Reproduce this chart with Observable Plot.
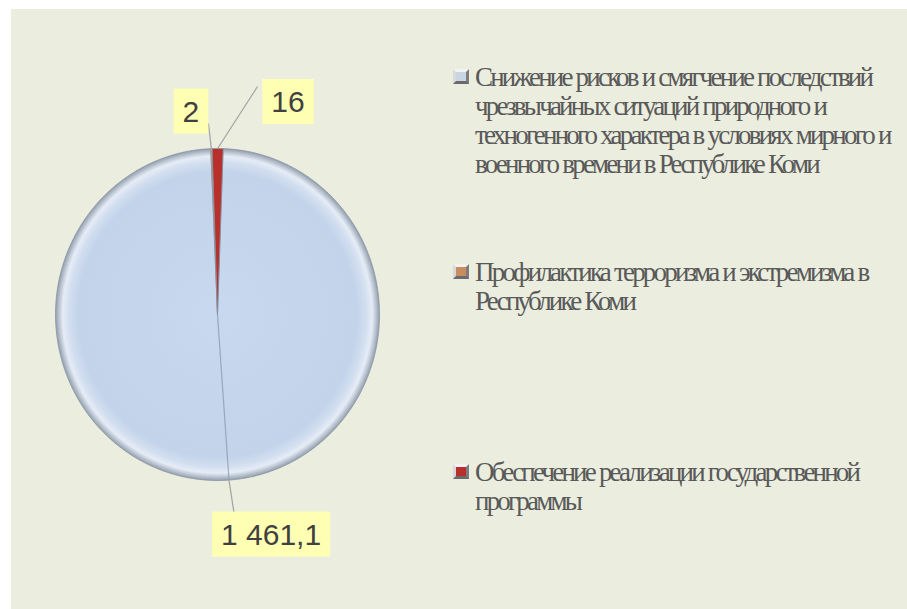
<!DOCTYPE html>
<html>
<head>
<meta charset="utf-8">
<script src="https://cdn.jsdelivr.net/npm/d3@7"></script>
<script src="https://cdn.jsdelivr.net/npm/@observablehq/plot@0.6"></script>
<style>
  html, body { margin: 0; padding: 0; background: #ffffff; }
  #wrap { position: relative; width: 907px; height: 609px; overflow: hidden; }
  #bg { position: absolute; left: 11px; top: 9px; right: 0; bottom: 0; background: #ebeedf; }
  #chart { position: absolute; left: 0; top: 0; }
  #chart svg { background: transparent; }
  .legend-item { position: absolute; left: 475px; width: 430px;
    font-family: "Liberation Serif", "Times New Roman", serif; font-size: 27px;
    line-height: 29px; color: #595959; letter-spacing: -2.8px; word-spacing: 1px; white-space: nowrap; }
  .legend-item .mk { position: absolute; left: -22px; top: 6px; width: 10px; height: 9px;
    border: 3px solid; border-color: #f2f2f2 #7d7d7d #6a6a6a #d9d9d9; }
</style>
</head>
<body>
<div id="wrap">
  <div id="bg"></div>
  <div id="chart"></div>
</div>
<script>
// ---- data ----
const categories = [
  "Снижение рисков и смягчение последствий чрезвычайных ситуаций природного и техногенного характера в условиях мирного и военного времени в Республике Коми",
  "Профилактика терроризма и экстремизма в Республике Коми",
  "Обеспечение реализации государственной программы"
];
const values = [1461.1, 2, 16];
const valueLabels = ["1 461,1", "2", "16"];
const legendLines = [
  ["Снижение рисков и смягчение последствий", "чрезвычайных ситуаций природного и", "техногенного характера в условиях мирного и", "военного времени в Республике Коми"],
  ["Профилактика терроризма и экстремизма в", "Республике Коми"],
  ["Обеспечение реализации государственной", "программы"]
];

// ---- styles / layout ----
const sliceFills = ["url(#gradBlue)", "#dea06c", "#b8302c"];
const markerFills = ["#c9d5e3", "#c98c5c", "#b8302c"];
const legendTops = [63, 258, 458];
const W = 907, H = 609;
const M = {left: 55, right: 528, top: 148, bottom: 129};
const kx = (W - M.left - M.right) / 2, ky = (H - M.top - M.bottom) / 2;
const rotationDeg = 2;
// label offsets (px) from the slice's rim mid-point; leader end relative to label centre; leader start shift
const labelLayout = [
  {dx: 53, dy: 54.5, ex: -37, ey: -22, sx: 11, sy: 0},
  {dx: -20.5, dy: -36.6, ex: 17.5, ey: 11.5, sx: 0, sy: 1},
  {dx: 70.4, dy: -46, ex: -30.5, ey: -16, sx: 0, sy: 0}
];

// ---- geometry in data space (unit circle) ----
const rot = rotationDeg * Math.PI / 180;
const arcs = d3.pie().sort(null).value(d => d)(values);
const sliceRows = [];
arcs.forEach((p, i) => {
  const a0 = p.startAngle + rot, a1 = p.endAngle + rot;
  const n = Math.max(4, Math.ceil((a1 - a0) / (Math.PI / 360)));
  sliceRows.push({slice: i, x: 0, y: 0});
  for (let k = 0; k <= n; k++) {
    const a = a0 + (a1 - a0) * k / n;
    sliceRows.push({slice: i, x: Math.sin(a), y: Math.cos(a)});
  }
  sliceRows.push({slice: i, x: 0, y: 0});
});
const labels = arcs.map((p, i) => {
  const mid = (p.startAngle + p.endAngle) / 2 + rot;
  const ax = Math.sin(mid), ay = Math.cos(mid);
  const L = labelLayout[i];
  const lx = ax + L.dx / kx, ly = ay - L.dy / ky;
  return {
    text: valueLabels[i],
    x: lx, y: ly,
    x1: ax + L.sx / kx, y1: ay - L.sy / ky,
    x2: lx + L.ex / kx, y2: ly - L.ey / ky
  };
});

const chart = Plot.plot({
  width: W, height: H,
  marginLeft: M.left, marginRight: M.right, marginTop: M.top, marginBottom: M.bottom,
  x: {domain: [-1, 1], axis: null},
  y: {domain: [-1, 1], axis: null},
  style: {background: "transparent", overflow: "visible"},
  marks: [
    ...[0, 1, 2].map(i => Plot.line(sliceRows.filter(d => d.slice === i), {
      x: "x", y: "y", fill: sliceFills[i], stroke: "#8793a3", strokeWidth: 0.8, strokeLinejoin: "round"
    })),
    // bevel seam of the large slice
    Plot.link([labels[0]], {x1: 0, y1: 0, x2: "x1", y2: "y1", stroke: "#8e9bb0", strokeWidth: 1.2, strokeOpacity: 0.8}),
    Plot.link(labels, {x1: "x1", y1: "y1", x2: "x2", y2: "y2", stroke: "#a6a6a6", strokeWidth: 1.3}),
    Plot.text(labels, {x: "x", y: "y", text: "text", fontSize: 30,
      fontFamily: "Liberation Sans, Arial, sans-serif", fill: "#404040"})
  ]
});
document.getElementById("chart").appendChild(chart);

// gradient for the large slice
const svg = d3.select(chart);
const defs = svg.insert("defs", ":first-child");
const g = defs.append("radialGradient").attr("id", "gradBlue").attr("cx", "50%").attr("cy", "50%").attr("r", "50%");
[[0, "#c8d8ef"], [0.86, "#c3d3ea"], [0.92, "#d3dff0"], [0.955, "#e5ecf6"], [0.98, "#b9c3d0"], [1, "#939eac"]]
  .forEach(([o, c]) => g.append("stop").attr("offset", o).attr("stop-color", c));

// yellow boxes behind value labels
svg.selectAll("text").filter(function () { return valueLabels.includes(this.textContent); }).each(function () {
  const b = this.getBBox();
  const padX = 9, padY = 6;
  const r = document.createElementNS("http://www.w3.org/2000/svg", "rect");
  r.setAttribute("x", b.x - padX);
  r.setAttribute("y", b.y - padY);
  r.setAttribute("width", b.width + 2 * padX);
  r.setAttribute("height", b.height + 2 * padY);
  r.setAttribute("fill", "#ffffb3");
  const tf = this.getAttribute("transform");
  if (tf) r.setAttribute("transform", tf);
  this.parentNode.insertBefore(r, this);
});

// legend
const wrap = document.getElementById("wrap");
legendLines.forEach((lines, i) => {
  const div = document.createElement("div");
  div.className = "legend-item";
  div.style.top = legendTops[i] + "px";
  div.title = categories[i];
  const mk = document.createElement("div");
  mk.className = "mk";
  mk.style.background = markerFills[i];
  div.appendChild(mk);
  lines.forEach(t => {
    const s = document.createElement("div");
    s.textContent = t;
    div.appendChild(s);
  });
  wrap.appendChild(div);
});
</script>
</body>
</html>
